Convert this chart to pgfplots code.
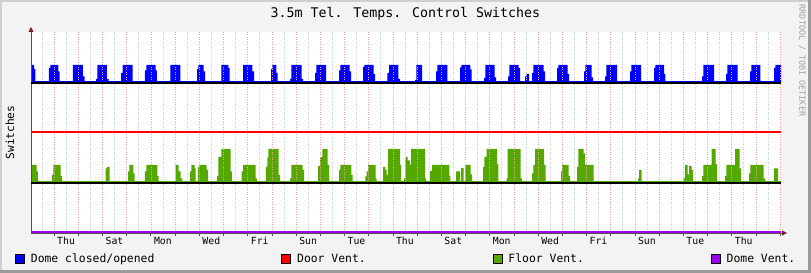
\documentclass[border=0pt]{standalone}
\usepackage{pgfplots}
\pgfplotsset{compat=1.18}
\usepackage{fontspec}
\setmainfont{DejaVu Sans Mono}
\usetikzlibrary{arrows.meta}
\definecolor{cblue}{HTML}{0000FF}
\definecolor{cred}{HTML}{FF0000}
\definecolor{cgreen}{HTML}{55A800}
\definecolor{cpurple}{HTML}{9F00F0}
\definecolor{canvasc}{HTML}{F3F3F3}
\definecolor{shadea}{HTML}{CFCFCF}
\definecolor{shadeb}{HTML}{9B9B9B}
\definecolor{majgrid}{HTML}{F0A0A0}
\definecolor{mingrid}{HTML}{C8C8C8}
\definecolor{arrowc}{HTML}{802020}
\definecolor{axisc}{HTML}{505050}
\definecolor{wmark}{HTML}{A0A0A0}
\pgfplotsset{rrdbase/.style={
  at={(31pt,40pt)}, anchor=south west,
  width=750pt, height=201pt, scale only axis,
  xmin=0.05, xmax=31.04, ymin=0, ymax=4.02,
  clip=false}}
\begin{document}
\begin{tikzpicture}[x=1pt,y=1pt]
\useasboundingbox (0,0) rectangle (811,273);
\fill[canvasc] (0,0) rectangle (811,273);
\fill[shadea] (0,271) rectangle (811,273);
\fill[shadea] (0,0) rectangle (2,273);
\fill[shadeb] (808,0) rectangle (811,273);
\fill[shadeb] (0,0) rectangle (811,2.5);
\node[rotate=-90, text=wmark, font=\fontsize{8.4}{10}\selectfont] at (802,212.5) {RRDTOOL / TOBI OETIKER};
% layer 1: filled areas
\begin{axis}[rrdbase,
  axis background/.style={fill=white},
  axis line style={draw=none},
  xtick=\empty, ytick=\empty,
]
% Dome closed/opened (offset 3)
\addplot[const plot, fill=cblue, draw=none] coordinates {
(0.05,3) (0.05,3.36) (0.174,3.28) (0.228,3.035)
(0.793,3.30) (0.848,3.36) (1.179,3.23) (1.234,3.035)
(1.785,3.36) (2.198,3.13) (2.267,3.035)
(2.736,3.08) (2.791,3.36) (3.190,3.08) (3.259,3.035)
(3.769,3.20) (3.838,3.36) (4.250,3.035)
(4.760,3.25) (4.815,3.36) (5.201,3.25) (5.256,3.035)
(5.807,3.36) (6.220,3.035)
(6.909,3.28) (6.964,3.36) (7.185,3.23) (7.240,3.035)
(7.915,3.36) (8.204,3.30) (8.259,3.035)
(8.810,3.36) (9.196,3.23) (9.265,3.035)
(9.967,3.28) (10.022,3.36) (10.187,3.20) (10.242,3.035)
(10.752,3.08) (10.807,3.36) (11.234,3.08) (11.289,3.035)
(11.785,3.20) (11.840,3.36) (12.240,3.035)
(12.777,3.25) (12.832,3.36) (13.218,3.23) (13.273,3.035)
(13.769,3.32) (13.824,3.36) (14.210,3.18) (14.264,3.035)
(14.774,3.20) (14.843,3.36) (15.229,3.08) (15.298,3.035)
(15.917,3.06) (15.973,3.36) (16.207,3.035)
(16.785,3.23) (16.840,3.36) (17.253,3.035)
(17.777,3.31) (17.832,3.36) (18.204,3.27) (18.259,3.035)
(18.769,3.10) (18.824,3.36) (19.210,3.11) (19.265,3.035)
(19.760,3.13) (19.815,3.36) (20.201,3.30) (20.256,3.035)
(20.463,3.13) (20.518,3.18) (20.628,3.035)
(20.752,3.20) (20.807,3.36) (21.234,3.23) (21.289,3.035)
(21.785,3.30) (21.840,3.36) (22.226,3.18) (22.281,3.035)
(22.901,3.23) (22.956,3.36) (23.218,3.11) (23.273,3.035)
(23.769,3.13) (23.824,3.36) (24.265,3.035)
(24.802,3.23) (24.857,3.36) (25.256,3.035)
(25.793,3.30) (25.848,3.36) (26.207,3.18) (26.262,3.035)
(27.777,3.13) (27.832,3.36) (28.273,3.035)
(28.769,3.18) (28.824,3.36) (29.251,3.035)
(29.760,3.23) (29.815,3.36) (30.187,3.04) (30.242,3.035)
(30.752,3.30) (30.807,3.36) (31.04,3.36) (31.04,3)
};
% Floor Vent. (offset 1)
\addplot[const plot, fill=cgreen, draw=none] coordinates {
(0.05,1) (0.05,1.36) (0.284,1.23) (0.339,1.035)
(0.917,1.16) (0.972,1.36) (1.276,1.14) (1.331,1.035)
(3.135,1.29) (3.190,1.32) (3.300,1.035)
(4.058,1.23) (4.113,1.36) (4.278,1.19) (4.334,1.035)
(4.760,1.23) (4.815,1.36) (5.270,1.14) (5.325,1.035)
(6.028,1.36) (6.152,1.23) (6.234,1.09) (6.303,1.035)
(6.620,1.23) (6.675,1.36) (6.813,1.29) (6.854,1.035)
(6.950,1.32) (7.006,1.36) (7.309,1.26) (7.364,1.035)
(7.736,1.14) (7.791,1.52) (7.915,1.68) (8.300,1.23) (8.355,1.035)
(8.755,1.23) (8.810,1.36) (9.333,1.09) (9.388,1.035)
(9.760,1.32) (9.815,1.51) (9.857,1.68) (10.284,1.16) (10.339,1.035)
(10.752,1.09) (10.807,1.36) (11.276,1.26) (11.331,1.035)
(11.909,1.34) (11.992,1.52) (12.088,1.68) (12.309,1.36) (12.364,1.035)
(12.777,1.26) (12.832,1.36) (13.286,1.16) (13.342,1.035)
(13.865,1.13) (13.920,1.23) (13.975,1.36) (14.292,1.09) (14.333,1.035)
(14.595,1.32) (14.691,1.26) (14.747,1.16) (14.802,1.68) (15.298,1.36) (15.339,1.035)
(15.463,1.09) (15.518,1.52) (15.615,1.45) (15.711,1.36) (15.752,1.68) (16.331,1.09) (16.372,1.035)
(16.537,1.24) (16.620,1.36) (17.336,1.14) (17.378,1.035)
(17.612,1.23) (17.777,1.035) (17.818,1.30) (17.929,1.035) (17.997,1.36) (18.218,1.17) (18.273,1.035)
(18.727,1.32) (18.782,1.52) (18.879,1.68) (19.306,1.37) (19.361,1.035)
(19.705,1.09) (19.747,1.68) (20.284,1.09) (20.339,1.035)
(20.752,1.19) (20.807,1.36) (20.876,1.68) (21.248,1.36) (21.317,1.035)
(21.950,1.23) (21.992,1.36) (22.267,1.14) (22.322,1.035)
(22.612,1.32) (22.667,1.68) (22.887,1.59) (22.942,1.36) (23.300,1.035)
(25.132,1.09) (25.174,1.26) (25.284,1.035)
(27.019,1.09) (27.074,1.36) (27.185,1.17) (27.240,1.34) (27.350,1.26) (27.405,1.035)
(27.777,1.14) (27.832,1.36) (28.176,1.68) (28.342,1.37) (28.397,1.035)
(28.727,1.14) (28.782,1.36) (29.140,1.68) (29.334,1.29) (29.389,1.035)
(29.719,1.19) (29.774,1.36) (30.325,1.09) (30.380,1.035)
(30.752,1.29) (30.917,1.035) (31.04,1.035) (31.04,1)
};
\end{axis}
% layer 2: grid, axes, texts, lines
\begin{axis}[rrdbase,
  axis x line=bottom, axis y line=left,
  axis line style={draw=axisc, line width=0.8pt},
  x axis line style={-{Triangle[length=5pt,width=5pt,color=arrowc]}, shorten >=-6pt},
  y axis line style={-{Triangle[length=5pt,width=5pt,color=arrowc]}, shorten >=-5pt},
  ytick=\empty,
  xtick={1,...,31},
  xticklabels={},
  minor xtick={0.5,1.5,...,30.5},
  xtick align=outside,
  major tick length=3pt, minor tick length=0pt,
  tick style={draw=axisc, line width=0.6pt},
  xmajorgrids, xminorgrids,
  major grid style={draw=majgrid, line width=0.5pt, dash pattern=on 1pt off 1.5pt},
  minor grid style={draw=mingrid, line width=0.5pt, dash pattern=on 1pt off 1.5pt},
  extra x ticks={1.5,3.5,...,29.5},
  extra x tick labels={Thu,Sat,Mon,Wed,Fri,Sun,Tue,Thu,Sat,Mon,Wed,Fri,Sun,Tue,Thu},
  extra x tick style={grid=none, major tick length=0pt},
  xticklabel style={font=\fontsize{9.8}{11}\selectfont, anchor=base, yshift=-11.5pt},
  title={3.5m Tel. Temps. Control Switches},
  title style={at={(axis description cs:0.4993,1.0697)}, anchor=base, yshift=-6pt, font=\fontsize{13.3}{15}\selectfont},
  ylabel={Switches},
  ylabel style={at={(axis description cs:-0.028,0.5)}, anchor=center, font=\fontsize{11.2}{13}\selectfont},
  legend columns=4,
  legend cell align=left,
  legend image code/.code={\draw[#1, draw=black, line width=0.7pt] (0pt,-4.5pt) rectangle (9pt,4.5pt);},
  legend style={at={(axis description cs:-0.02133,-0.1294)}, anchor=west, draw=none, fill=none,
    inner sep=0pt, font=\fontsize{11.4}{13}\selectfont, nodes={inner sep=0pt},
    /tikz/every odd column/.append style={column sep=6pt},
    /tikz/every even column/.append style={column sep=127pt}},
]
\addplot[black, line width=1.2pt, forget plot] coordinates {(0.05,3) (31.04,3)};
% Door Vent.
\addplot[cred, line width=2pt, forget plot] coordinates {(0.05,2.01) (31.04,2.01)};
\addplot[black, line width=1.2pt, forget plot] coordinates {(0.05,1) (31.04,1)};
% Dome Vent.
\addplot[cpurple, line width=2pt, forget plot] coordinates {(0.05,0.02) (31.04,0.02)};
\addlegendimage{fill=cblue}
\addlegendentry{Dome closed/opened}
\addlegendimage{fill=cred}
\addlegendentry{Door Vent.}
\addlegendimage{fill=cgreen}
\addlegendentry{Floor Vent.}
\addlegendimage{fill=cpurple}
\addlegendentry{Dome Vent.}
\end{axis}
\end{tikzpicture}
\end{document}
